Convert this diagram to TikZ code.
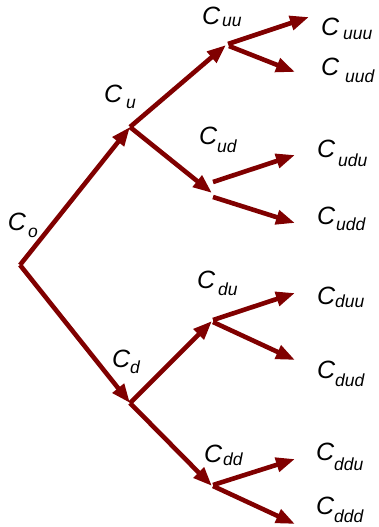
\documentclass[tikz,border=0pt]{standalone}
\usepackage{fontspec}
\setmainfont{Liberation Sans}
\usetikzlibrary{arrows.meta}
\definecolor{maroonx}{RGB}{128,0,0}
\newcommand\clab[3]{\fontsize{25}{25}\selectfont\itshape C\kern#1pt\raisebox{-#2pt}{\fontsize{17.5}{17.5}\selectfont\itshape #3}}
\tikzset{
  arr/.style={draw=maroonx, line width=4.6pt, -{Triangle[length=19pt,width=14pt]}},
  lbl/.style={anchor=base west, inner sep=0pt, outer sep=0pt}
}
\begin{document}
\begin{tikzpicture}[x=1pt,y=-1pt]
\useasboundingbox (0,0) rectangle (378,527);
% junctions
\coordinate (O) at (20,265);
\coordinate (U) at (130,127);
\coordinate (D) at (130,403);
\coordinate (UUin) at (226,45);
\coordinate (UDin) at (212,193);
\coordinate (DUin) at (212,321);
\coordinate (DDin) at (212,486);
% child starts
\coordinate (UUa) at (228,44);
\coordinate (UUb) at (229,46);
\coordinate (UDa) at (213,182);
\coordinate (UDb) at (213,197);
\coordinate (DUa) at (213,320);
\coordinate (DUb) at (213,322);
\coordinate (DDa) at (213,485);
\coordinate (DDb) at (213,486);
% ends
\coordinate (UUU) at (309,17);
\coordinate (UUD) at (295,72);
\coordinate (UDU) at (295,155);
\coordinate (UDD) at (295,223);
\coordinate (DUU) at (295,293);
\coordinate (DUD) at (295,360);
\coordinate (DDU) at (295,459);
\coordinate (DDD) at (295,524);
% arrows
\draw[arr] (O) -- (U);
\draw[arr] (O) -- (D);
\draw[arr] (U) -- (UUin);
\draw[arr] (U) -- (UDin);
\draw[arr] (D) -- (DUin);
\draw[arr] (D) -- (DDin);
\draw[arr] (UUa) -- (UUU);
\draw[arr] (UUb) -- (UUD);
\draw[arr] (UDa) -- (UDU);
\draw[arr] (UDb) -- (UDD);
\draw[arr] (DUa) -- (DUU);
\draw[arr] (DUb) -- (DUD);
\draw[arr] (DDa) -- (DDU);
\draw[arr] (DDb) -- (DDD);
% labels
\node[lbl] (lo) at (8,230) {\clab{2}{7}{o}};
\node[lbl] (lu) at (104,102) {\clab{4}{6}{u}};
\node[lbl] (ld) at (112,367) {\clab{0}{6}{d}};
\node[lbl] (luu) at (202,25) {\clab{2}{2}{uu}};
\node[lbl] (lud) at (199,144) {\clab{0}{8}{ud}};
\node[lbl] (ldu) at (197,288) {\clab{3}{7}{du}};
\node[lbl] (ldd) at (204,462) {\clab{1}{3}{dd}};
\node[lbl] (luuu) at (321,36) {\clab{4}{4}{uuu}};
\node[lbl] (luud) at (321,75) {\clab{6}{7}{uud}};
\node[lbl] (ludu) at (317,157) {\clab{3}{9}{udu}};
\node[lbl] (ludd) at (317,224) {\clab{1}{6}{udd}};
\node[lbl] (lduu) at (317,304) {\clab{0}{3}{duu}};
\node[lbl] (ldud) at (317,378) {\clab{0}{8}{dud}};
\node[lbl] (lddu) at (316,460) {\clab{0}{10}{ddu}};
\node[lbl] (lddd) at (316,514) {\clab{0}{8}{ddd}};
\end{tikzpicture}
\end{document}
